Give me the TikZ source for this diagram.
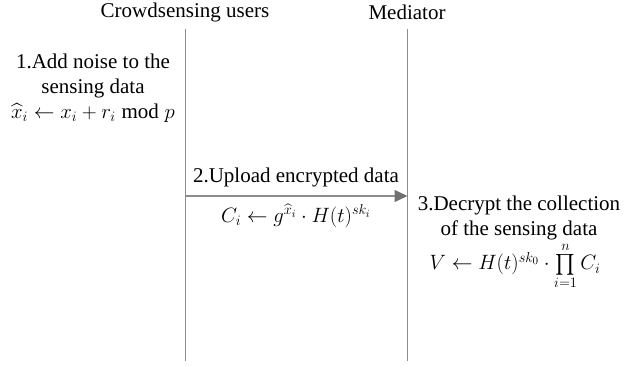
\documentclass[tikz,border=0pt]{standalone}
\usepackage{amsmath}
\usepackage{fontspec}
\setmainfont{Liberation Serif}
\usetikzlibrary{arrows.meta}
\definecolor{linegray}{HTML}{8C8C8C}
\definecolor{tipgray}{HTML}{707070}
\tikzset{
  lifeline/.style={draw=linegray, line width=1.3pt},
  msg/.style={draw=linegray, line width=1.3pt, -{Triangle[length=13pt,width=12pt,fill=tipgray,color=tipgray]}},
  txt/.style={align=center, inner sep=0pt, font=\fontsize{21}{25}\selectfont},
}
\begin{document}
\begin{tikzpicture}[x=1pt,y=-1pt]
\useasboundingbox (0,0) rectangle (626,366);
% actors
\node[txt] (users) at (185,12) {Crowdsensing users};
\node[txt] (med) at (407,12) {Mediator};
\coordinate (uTop) at (185.5,29);
\coordinate (uBot) at (185.5,361);
\coordinate (mTop) at (407.5,29);
\coordinate (mBot) at (407.5,361);
\draw[lifeline] (uTop) -- (uBot);
\draw[lifeline] (mTop) -- (mBot);
% step 1
\node[txt] (s1) at (93,88) {1.Add noise to the\\ sensing data\\ $\widehat{x}_i \leftarrow x_i + r_i \bmod p$};
% step 2
\coordinate (aS) at (185.5,196);
\coordinate (aE) at (407.5,196);
\draw[msg] (aS) -- (aE);
\node[txt] (s2) at (296,177) {2.Upload encrypted data};
\node[txt] (f2) at (296,216) {$C_i \leftarrow g^{\widehat{x}_i}\cdot H(t)^{sk_i}$};
% step 3
\node[txt] (s3) at (519,205) {3.Decrypt the collection};
\node[txt] (s3b) at (519,230) {of the sensing data};
\node[txt] (f3) at (515,266) {$V \leftarrow H(t)^{sk_0}\cdot \prod\limits_{i=1}^{n} C_i$};
\end{tikzpicture}
\end{document}
